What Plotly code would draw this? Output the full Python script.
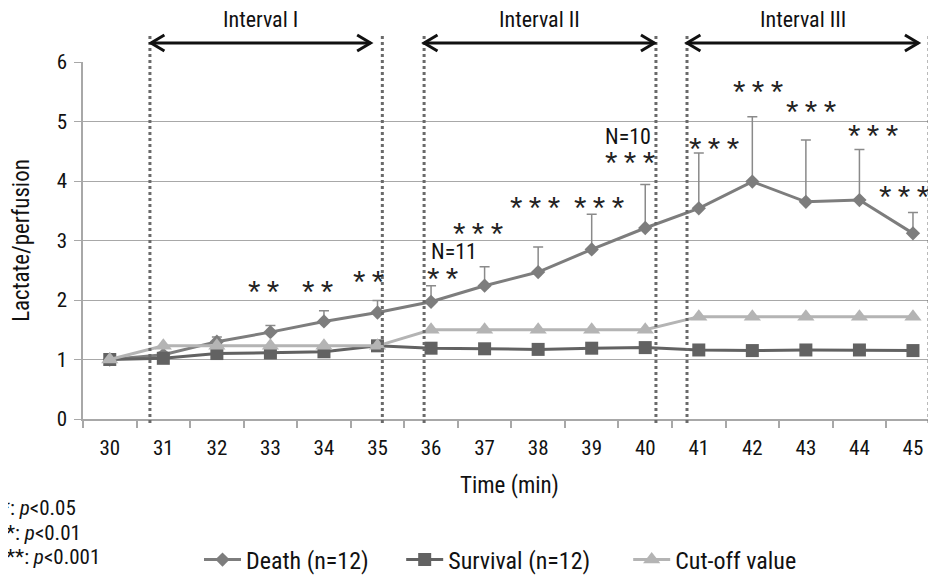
import plotly.graph_objects as go

# ---------------- data ----------------
time_min = list(range(30, 46))
tick_labels = [str(t) for t in time_min]

death = [1.00, 1.08, 1.30, 1.46, 1.64, 1.79, 1.97, 2.24, 2.47, 2.85, 3.21, 3.54, 3.99, 3.65, 3.68, 3.12]
death_upper = [1.00, 1.12, 1.38, 1.57, 1.82, 1.99, 2.24, 2.56, 2.89, 3.44, 3.94, 4.47, 5.08, 4.69, 4.53, 3.47]
survival = [1.00, 1.02, 1.10, 1.11, 1.13, 1.23, 1.19, 1.18, 1.17, 1.19, 1.20, 1.16, 1.15, 1.16, 1.16, 1.15]
cutoff = [1.00, 1.23, 1.23, 1.23, 1.23, 1.23, 1.50, 1.50, 1.50, 1.50, 1.50, 1.72, 1.72, 1.72, 1.72, 1.72]

sig_x = [32.88, 33.87, 34.84, 36.21, 36.88, 37.95, 39.13, 39.72, 41.28, 42.10, 43.09, 44.25, 44.83]
sig_y = [2.20, 2.20, 2.37, 2.42, 3.18, 3.61, 3.61, 4.37, 4.60, 5.56, 5.22, 4.82, 3.80]
sig_text = ["**", "**", "**", "**", "***", "***", "***", "***", "***", "***", "***", "***", "***"]

n_x = [36.43, 39.67]
n_y = [2.81, 4.74]
n_text = ["N=11", "N=10"]

interval_names = ["Interval I", "Interval II", "Interval III"]
interval_start = [30.77, 35.87, 40.78]
interval_end = [34.87, 40.17, 45.10]
divider_x = [30.75, 35.09, 35.87, 40.20, 40.78, 45.30]

p_legend = ["*: <i>p</i>&lt;0.05", "**: <i>p</i>&lt;0.01", "***: <i>p</i>&lt;0.001"]

series_names = ["Death (n=12)", "Survival (n=12)", "Cut-off value"]

# ---------------- styles ----------------
FONT = "Liberation Sans Narrow, Roboto Condensed, Liberation Sans, Arial"
C_DEATH = "#7d7d7d"
C_SURV = "#626262"
C_CUT = "#b4b4b4"
GRID = "#a8a8a8"

OFF = 8                      # page body margin offset
W, H = 936 - OFF, 579 - OFF
PLOT_L, PLOT_T, PLOT_B = 83, 62, 419   # in screenshot pixels
ML, MT, MR = PLOT_L - OFF, PLOT_T - OFF, 0
MB = H - (PLOT_B - OFF)
plot_h = PLOT_B - PLOT_T
plot_w = W - ML - MR

def paper_y(px):
    return (PLOT_B - px) / plot_h

def paper_x(px):
    return (px - PLOT_L) / plot_w

NBSP = "\u00a0"

fig = go.Figure()

err_plus = [u - m for u, m in zip(death_upper, death)]
fig.add_trace(go.Scatter(
    x=time_min, y=death, name=series_names[0] + NBSP * 5, mode="lines+markers",
    line=dict(color=C_DEATH, width=3),
    marker=dict(symbol="diamond", size=11, color=C_DEATH),
    error_y=dict(type="data", symmetric=False, array=err_plus,
                 arrayminus=[0] * len(death), color="#8a8a8a", thickness=1.5, width=5),
))
fig.add_trace(go.Scatter(
    x=time_min, y=survival, name=series_names[1] + NBSP * 6, mode="lines+markers",
    line=dict(color=C_SURV, width=3),
    marker=dict(symbol="square", size=13, color=C_SURV),
))
fig.add_trace(go.Scatter(
    x=time_min, y=cutoff, name=series_names[2], mode="lines+markers",
    line=dict(color=C_CUT, width=3),
    marker=dict(symbol="triangle-up", size=15, color=C_CUT),
))

shapes = []
for dx in divider_x:
    shapes.append(dict(type="line", xref="x", yref="paper", x0=dx, x1=dx,
                       y0=paper_y(423), y1=paper_y(33),
                       line=dict(color="#6a6a6a", width=3, dash="dot")))

arrow_y = paper_y(43)
head_dx = 0.25
head_dy = 8 / plot_h
annotations = []
for name, a, b in zip(interval_names, interval_start, interval_end):
    shapes.append(dict(type="line", xref="x", yref="paper", x0=a, x1=b, y0=arrow_y, y1=arrow_y,
                       line=dict(color="#111111", width=3)))
    shapes.append(dict(type="path", xref="x", yref="paper",
                       path=f"M {a+head_dx},{arrow_y+head_dy} L {a},{arrow_y} L {a+head_dx},{arrow_y-head_dy}",
                       line=dict(color="#111111", width=3)))
    shapes.append(dict(type="path", xref="x", yref="paper",
                       path=f"M {b-head_dx},{arrow_y+head_dy} L {b},{arrow_y} L {b-head_dx},{arrow_y-head_dy}",
                       line=dict(color="#111111", width=3)))
    annotations.append(dict(x=(a + b) / 2, y=paper_y(20), xref="x", yref="paper", text=name,
                            showarrow=False, xanchor="center", yanchor="middle",
                            font=dict(size=22, color="#111111", family=FONT)))

for x, y, t in zip(sig_x, sig_y, sig_text):
    annotations.append(dict(x=x, y=y, xref="x", yref="y", text="\u2009".join(t), showarrow=False,
                            xanchor="center", yanchor="middle", yshift=-4,
                            font=dict(size=32, color="#222222", family="Liberation Sans")))
for x, y, t in zip(n_x, n_y, n_text):
    annotations.append(dict(x=x, y=y, xref="x", yref="y", text=t, showarrow=False,
                            xanchor="center", yanchor="middle",
                            font=dict(size=22, color="#111111", family=FONT)))

p_right_px = [78, 83, 102]
p_y_px = [508, 533, 557]
for t, rx, py in zip(p_legend, p_right_px, p_y_px):
    annotations.append(dict(x=paper_x(rx), y=paper_y(py), xref="paper", yref="paper",
                            text=t, showarrow=False, xanchor="right", yanchor="middle",
                            font=dict(size=21, color="#111111", family=FONT)))

fig.update_layout(
    width=W, height=H,
    margin=dict(l=ML, r=MR, t=MT, b=MB, autoexpand=False),
    paper_bgcolor="white", plot_bgcolor="white",
    font=dict(family=FONT, size=21, color="#111111"),
    shapes=shapes, annotations=annotations,
    showlegend=True,
    legend=dict(orientation="h", x=paper_x(199), xanchor="left",
                y=paper_y(560), yanchor="middle", font=dict(size=24, family=FONT),
                itemwidth=37, bgcolor="rgba(0,0,0,0)"),
    xaxis=dict(
        range=[29.5, 45.43], tickmode="array", tickvals=time_min, ticktext=tick_labels,
        ticks="", showgrid=False, zeroline=False, automargin=False,
        showline=True, linecolor=GRID, linewidth=1.5,
        tickfont=dict(size=21, family=FONT), ticklabelstandoff=9,
        minor=dict(ticks="outside", tick0=29.5, dtick=1, ticklen=7, tickcolor=GRID, tickwidth=1.5, showgrid=False),
        title=dict(text="Time (min)", font=dict(size=23, family=FONT), standoff=18),
    ),
    yaxis=dict(
        range=[0, 6], tickvals=[0, 1, 2, 3, 4, 5, 6], ticks="outside", ticklen=7, tickcolor=GRID,
        showgrid=True, gridcolor=GRID, gridwidth=1, zeroline=False, automargin=False,
        showline=True, linecolor=GRID, linewidth=1.5,
        tickfont=dict(size=21, family=FONT), ticklabelstandoff=3,
        title=dict(text="Lactate/perfusion", font=dict(size=23, family=FONT), standoff=28),
    ),
)

fig.write_html("out.html")
